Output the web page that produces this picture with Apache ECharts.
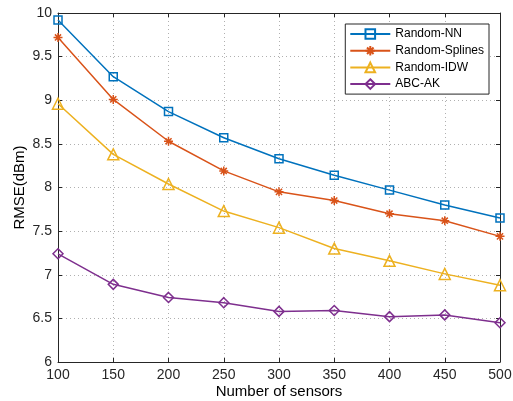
<!DOCTYPE html>
<html><head><meta charset="utf-8">
<script src="https://cdn.jsdelivr.net/npm/echarts@6/dist/echarts.min.js"></script>
<style>html,body{margin:0;padding:0;background:#fff}#c{width:513px;height:401px}</style>
</head><body><div id="c"></div>
<script>
var categories = [100,150,200,250,300,350,400,450,500];
var seriesNames = ['Random-NN','Random-Splines','Random-IDW','ABC-AK'];
var randomNN = [9.92,9.27,8.87,8.57,8.33,8.14,7.97,7.80,7.65];
var randomSplines = [9.72,9.01,8.53,8.19,7.95,7.85,7.70,7.62,7.44];
var randomIDW = [8.96,8.38,8.04,7.73,7.54,7.30,7.16,7.01,6.88];
var abcAK = [7.24,6.89,6.74,6.68,6.58,6.59,6.52,6.54,6.45];
var yTicks = [6,6.5,7,7.5,8,8.5,9,9.5,10];

var colors = ['#0072BD','#D95319','#EDB120','#7E2F8E'];
var symbols = ['rect','path://M5,0L5,10M0,5L10,5M1.6,1.6L8.4,8.4M8.4,1.6L1.6,8.4','triangle','diamond'];
var sizes = [8,9,11,10];
var data = [randomNN,randomSplines,randomIDW,abcAK];
var font = 'Liberation Sans, Arial, sans-serif';

function pairs(arr){return categories.map(function(x,i){return [x,arr[i]];});}

var series = data.map(function(d,i){
  return {
    name: seriesNames[i], type:'line', data: pairs(d),
    symbol: symbols[i], symbolSize: sizes[i],
    lineStyle:{color:colors[i],width:1.5},
    itemStyle:{color: i===1?colors[i]:'rgba(255,255,255,0)', borderColor:colors[i], borderWidth:1.5},
    emphasis:{disabled:true}, animation:false
  };
});

var axisCommon = {
  axisLine:{show:true,onZero:false,lineStyle:{color:'#262626',width:1}},
  axisTick:{show:true,inside:true,length:4,lineStyle:{color:'#262626'}}
};

var chart = echarts.init(document.getElementById('c'));
chart.setOption({
  backgroundColor:'#fff',
  animation:false,
  grid:{left:58,right:13,top:13,bottom:39,containLabel:false,outerBoundsMode:'none'},
  legend:{
    data:seriesNames, orient:'vertical', right:24, top:24,
    backgroundColor:'#fff', borderColor:'#262626', borderWidth:1,
    padding:[4,5,4,4], itemGap:4.7, itemWidth:40, itemHeight:12,
    textStyle:{fontFamily:font,fontSize:12,color:'#000'}
  },
  xAxis:[Object.assign({
    type:'value', min:100, max:500, interval:50,
    name:'Number of sensors', nameLocation:'middle', nameGap:22, nameMoveOverlap:false,
    nameTextStyle:{fontFamily:font,fontSize:15,color:'#000'},
    axisLabel:{fontFamily:font,fontSize:14,color:'#262626',margin:6},
    splitLine:{show:true,lineStyle:{color:'#b0b0b0',type:[1,3],width:1}}
  },axisCommon),
  Object.assign({type:'value',position:'top',min:100,max:500,interval:50,axisLabel:{show:false},splitLine:{show:false}},axisCommon)],
  yAxis:[Object.assign({
    type:'value', min:6, max:10, interval:0.5,
    name:'RMSE(dBm)', nameLocation:'middle', nameGap:31, nameMoveOverlap:false,
    nameTextStyle:{fontFamily:font,fontSize:15,color:'#000'},
    axisLabel:{fontFamily:font,fontSize:14,color:'#262626',margin:6,formatter:function(v){return String(v);}},
    splitLine:{show:true,lineStyle:{color:'#b0b0b0',type:[1,3],width:1}}
  },axisCommon),
  Object.assign({type:'value',position:'right',min:6,max:10,interval:0.5,axisLabel:{show:false},splitLine:{show:false}},axisCommon)],
  series: series
});
</script></body></html>
